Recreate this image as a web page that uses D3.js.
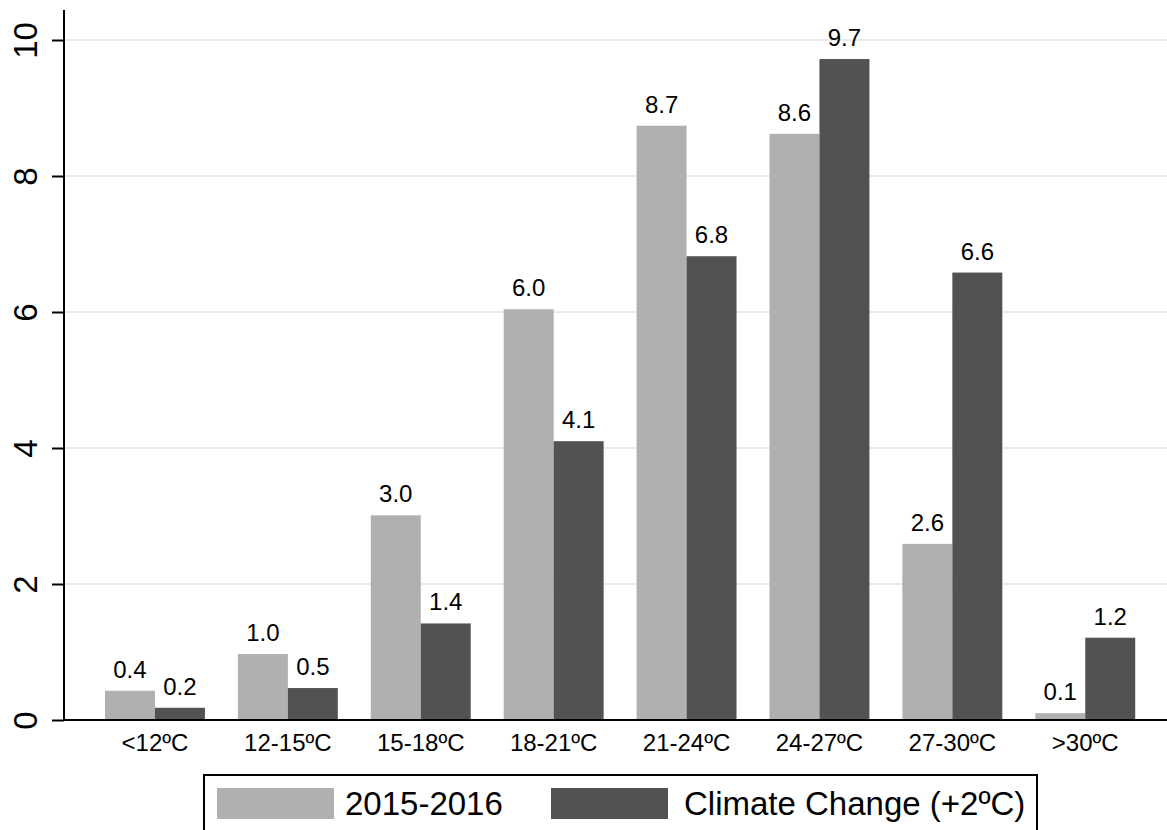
<!DOCTYPE html>
<html>
<head>
<meta charset="utf-8">
<script src="https://cdn.jsdelivr.net/npm/d3@7"></script>
<style>
  html, body { margin: 0; padding: 0; background: #fff; }
  svg { display: block; font-family: "Liberation Sans", Arial, Helvetica, sans-serif; }
</style>
</head>
<body>
<svg id="chart" width="1167" height="830"></svg>
<script>
const categories = ["<12ºC", "12-15ºC", "15-18ºC", "18-21ºC", "21-24ºC", "24-27ºC", "27-30ºC", ">30ºC"];
const seriesNames = ["2015-2016", "Climate Change (+2ºC)"];
const values2015 = [0.43, 0.97, 3.01, 6.04, 8.74, 8.62, 2.59, 0.10];
const valuesCC = [0.18, 0.47, 1.42, 4.10, 6.82, 9.72, 6.58, 1.21];
const labels2015 = ["0.4", "1.0", "3.0", "6.0", "8.7", "8.6", "2.6", "0.1"];
const labelsCC = ["0.2", "0.5", "1.4", "4.1", "6.8", "9.7", "6.6", "1.2"];
const yTicks = [0, 2, 4, 6, 8, 10];
const colors = ["#b0b0b0", "#525252"];

const svg = d3.select("#chart");
const left = 64, plotRight = 1167, top0 = 40, zeroY = 720;

const y = d3.scaleLinear().domain([0, 10]).range([zeroY, top0]);
const x = d3.scaleBand().domain(categories).range([88.5, 1151.7]).paddingInner(0).paddingOuter(0);
const barW = x.bandwidth() * 0.376;

// gridlines
svg.append("g").selectAll("line").data(yTicks.filter(d => d > 0)).join("line")
  .attr("x1", left).attr("x2", plotRight)
  .attr("y1", d => y(d)).attr("y2", d => y(d))
  .attr("stroke", "#eaeaea").attr("stroke-width", 2);

// bars
const data = categories.map((c, i) => ({c, vals: [values2015[i], valuesCC[i]], labs: [labels2015[i], labelsCC[i]]}));
const g = svg.append("g");
data.forEach(d => {
  const cx = x(d.c) + x.bandwidth() / 2;
  [0, 1].forEach(k => {
    const x0 = k === 0 ? cx - barW : cx;
    g.append("rect")
      .attr("x", x0).attr("y", y(d.vals[k]))
      .attr("width", barW).attr("height", y(0) - y(d.vals[k]))
      .attr("fill", colors[k]);
    g.append("text")
      .attr("x", x0 + barW / 2).attr("y", y(d.vals[k]) - 13)
      .attr("text-anchor", "middle")
      .attr("font-size", 24).attr("fill", "#000")
      .text(d.labs[k]);
  });
});

// y axis
const yAxis = d3.axisLeft(y).tickValues(yTicks).tickSize(12).tickFormat(d3.format("d"));
const ya = svg.append("g").attr("transform", `translate(${left},0)`).call(yAxis);
ya.select(".domain").attr("stroke", "#000").attr("stroke-width", 2)
  .attr("d", `M0,${zeroY}V10`);
ya.selectAll(".tick line").attr("stroke", "#000").attr("stroke-width", 2);
ya.selectAll(".tick text")
  .attr("font-size", 33)
  .attr("font-family", "'Liberation Sans', Arial, sans-serif")
  .attr("fill", "#000")
  .attr("text-anchor", "middle")
  .attr("x", null).attr("dy", null)
  .attr("transform", "translate(-27,0) rotate(-90)");

// x axis
const xAxis = d3.axisBottom(x).tickSize(0).tickPadding(0);
const xa = svg.append("g").attr("transform", `translate(0,${zeroY})`).call(xAxis);
xa.select(".domain").attr("stroke", "#000").attr("stroke-width", 2)
  .attr("d", `M${left},0H${plotRight}`);
xa.selectAll(".tick text")
  .attr("font-size", 24)
  .attr("font-family", "'Liberation Sans', Arial, sans-serif")
  .attr("fill", "#000")
  .attr("dy", null)
  .attr("y", 31);

// legend
const lg = svg.append("g");
lg.append("rect").attr("x", 204).attr("y", 775).attr("width", 833).attr("height", 70)
  .attr("fill", "#fff").attr("stroke", "#000").attr("stroke-width", 2);
const legendItems = [
  {name: seriesNames[0], color: colors[0], sx: 217, tx: 345},
  {name: seriesNames[1], color: colors[1], sx: 551, tx: 684}
];
legendItems.forEach(it => {
  lg.append("rect").attr("x", it.sx).attr("y", 788).attr("width", 117).attr("height", 31).attr("fill", it.color);
  lg.append("text").attr("x", it.tx).attr("y", 815).attr("font-size", 33).attr("fill", "#000").text(it.name);
});
</script>
</body>
</html>
